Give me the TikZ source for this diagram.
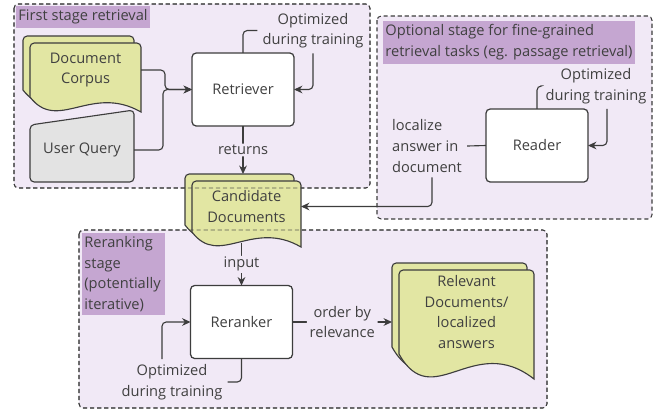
\documentclass[tikz,border=0pt]{standalone}
\usepackage{fontspec}
\setmainfont{Open Sans}
\usepackage{tikz}
\usetikzlibrary{arrows.meta}

\definecolor{stagebg}{HTML}{F1E9F6}
\definecolor{tagc}{HTML}{C5A6D1}
\definecolor{docc}{HTML}{E2E6A3}
\definecolor{queryc}{HTML}{E3E3E3}
\definecolor{linec}{HTML}{3D3D3D}
\definecolor{textc}{HTML}{404040}

\pgfdeclarelayer{back}
\pgfdeclarelayer{mid}
\pgfdeclarelayer{over}
\pgfsetlayers{back,mid,over,main}

\tikzset{
  stagebox/.style={draw=linec, dash pattern=on 3pt off 2pt, line width=0.75pt, rounded corners=3pt},
  tag/.style={fill=tagc, inner xsep=1.5pt, inner ysep=2.5pt, align=left, anchor=north west},
  block/.style={draw=linec, line width=0.9pt, fill=white, rounded corners=3pt,
    minimum width=2.55cm, minimum height=1.825cm, inner sep=0pt, outer sep=0pt},
  docnode/.style={inner sep=0pt, outer sep=0pt, align=center},
  docpage/.style={draw=linec, line width=0.8pt, fill=docc},
  querynode/.style={minimum width=2.6cm, minimum height=1.6cm, inner sep=0pt, outer sep=0pt},
  queryshape/.style={draw=linec, line width=0.8pt, fill=queryc, rounded corners=3pt},
  note/.style={align=center, inner sep=3.5pt},
  cut/.style={fill=stagebg, inner xsep=2pt, inner ysep=1pt},
  link/.style={draw=linec, line width=0.8pt, rounded corners=3pt},
  flow/.style={link, -{Stealth[length=6pt,width=5.5pt]}}
}

% stacked paper behind a document node: #1 node, #2 width, #3 wave depth
\newcommand{\docstack}[3]{%
  \begin{pgfonlayer}{mid}
    \draw[docpage] ([shift={(-7,-7)}]#1.south west) [rounded corners=3pt] |- ([shift={(-7,-7)}]#1.north east)
      -- ([shift={(-7,-7)}]#1.south east) [sharp corners] -- ++(0,#3)
      .. controls +(-0.45*#2,-1.9*#3) and +(0.25*#2,2.4*#3) .. ([shift={(-7,-7)}]#1.south west) -- cycle;
    \draw[docpage] (#1.south west) [rounded corners=3pt] |- (#1.north east)
      -- (#1.south east) [sharp corners] -- ++(0,#3)
      .. controls +(-0.45*#2,-1.9*#3) and +(0.25*#2,2.4*#3) .. (#1.south west) -- cycle;
  \end{pgfonlayer}
  \coordinate (#1-back) at ([shift={(-7,-7)}]#1.north);
  \coordinate (#1-bw) at ([shift={(-7,-7)}]#1.west);
  \coordinate (#1-bot) at ([shift={(0,0.75*#3)}]#1.south);
}

\begin{document}
\begin{tikzpicture}[x=0.025cm, y=-0.025cm, font=\fontsize{10.4}{14.6}\selectfont, text=textc]
\useasboundingbox (0,0) rectangle (655,410);

% stages
\begin{pgfonlayer}{back}
  \draw[stagebox, fill=stagebg] (14,4) rectangle (370,188);
  \draw[stagebox, fill=stagebg] (377,16) rectangle (652,219);
  \draw[stagebox, fill=stagebg] (79,230) rectangle (547,408);
\end{pgfonlayer}
\begin{pgfonlayer}{over}
  \draw[stagebox, draw opacity=0.45] (14,4) rectangle (370,188);
  \draw[stagebox, draw opacity=0.45] (79,230) rectangle (547,408);
\end{pgfonlayer}

\node[tag] (tag1) at (16,6) {First stage retrieval};
\node[tag] (tag2) at (383,21) {Optional stage for fine-grained\\retrieval tasks (eg. passage retrieval)};
\node[tag, text width=1.97cm] (tag3) at (82,233) {Reranking\\stage\\(potentially\\iterative)};

% documents
\node[docnode, minimum width=2.775cm, minimum height=1.35cm] (corpus) at (85.5,70) {Document\\Corpus};
\node[docnode, minimum width=2.725cm, minimum height=1.275cm] (cand) at (246.5,206.5) {Candidate\\Documents};
\node[docnode, minimum width=3.375cm, minimum height=2.1cm] (relevant) at (466.5,312) {Relevant\\Documents/\\localized\\answers};
\docstack{corpus}{111}{15}
\docstack{cand}{109}{15}
\docstack{relevant}{135}{25}

\node[querynode] (query) at (82,150) {User Query};
\begin{pgfonlayer}{mid}
  \draw[queryshape] (query.south west) -- ++(0,-57) -- ++(104,-15) -- (query.south east) -- cycle;
\end{pgfonlayer}

% models
\node[block] (retriever) at (243,89.5) {Retriever};
\node[block] (reader) at (537,145.5) {Reader};
\node[block] (reranker) at (241.5,322) {Reranker};

\node[note] (opt1) at (313,30.5) {Optimized\\during training};
\node[note] (opt2) at (596,86) {Optimized\\during training};
\node[note] (opt3) at (172,382) {Optimized\\during training};
\node[note, align=left] (loc) at (427,146) {localize\\answer in\\document};

% connectors
\draw[flow] (corpus.east) -- ++(24,0) |- (retriever.west);
\draw[flow] (query.east) -- ++(29,0) |- (retriever.west);
\draw[link] (retriever.north) |- (opt1.west);
\draw[flow] (opt1.south) |- (retriever.east);
\draw[flow] (retriever.south) -- node[cut]{returns} (retriever.south |- cand-back);

\draw[link] (reader.north) |- (opt2.west);
\draw[flow] ([shift={(11,0)}]opt2.south) |- (reader.east);
\draw[link] (reader.west) -- (loc.east);
\draw[flow] ([shift={(5,0)}]loc.south) |- (cand.east);

\draw[flow] (reranker.north |- cand-bot) -- node[cut]{input} (reranker.north);
\draw[link] (reranker.south) |- (opt3.east);
\draw[flow] ([shift={(-10,0)}]opt3.north) |- (reranker.west);
\draw[flow] (reranker.east) -- node[cut, align=center]{order by\\relevance} (reranker.east -| relevant-bw);

\end{tikzpicture}
\end{document}
